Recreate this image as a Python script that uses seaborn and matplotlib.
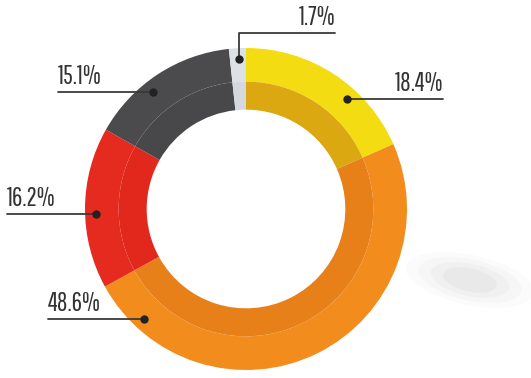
import matplotlib
matplotlib.use("Agg")
import matplotlib.pyplot as plt
import seaborn as sns
import numpy as np

# data: shares clockwise from 12 o'clock
labels = ["18.4%", "48.6%", "16.2%", "15.1%", "1.7%"]
shares = [18.4, 48.6, 16.2, 15.1, 1.7]
outer_colors = ["#f4dc12", "#f28c1c", "#e52a1f", "#4b4b4d", "#dde0e4"]
inner_colors = ["#dba812", "#e8801a", "#e2281d", "#48484a", "#d5d8dc"]

# label layout: dot angle (deg clockwise from top), line end x (px)
dot_angle = [42.6, 223.0, 268.0, 321.5, -2.6]
line_end_x = [443, 48, 7, 58, 335]

sns.set_theme(style="white")
plt.rcParams["font.family"] = ["Pathway Gothic One", "DejaVu Sans"]

W, H = 531, 378
fig = plt.figure(figsize=(W / 100, H / 100), dpi=100)
ax = fig.add_axes([0, 0, 1, 1])

cx, cy = 246, H - 209  # centre in data coords (y up)
R = 161
ring = 0.38 * R

# faint blurred shadow at lower right
for k, a in enumerate([0.03, 0.04, 0.05, 0.06]):
    e = matplotlib.patches.Ellipse((470, H - 280), 130 - 25 * k, 50 - 9 * k,
                                   angle=-12, facecolor="#888888", alpha=a,
                                   edgecolor="none", zorder=0)
    ax.add_patch(e)

ax.pie(shares, colors=outer_colors, startangle=90, counterclock=False,
       center=(cx, cy), radius=R,
       wedgeprops=dict(width=ring * 0.55, edgecolor="none"), frame=True)
ax.pie(shares, colors=inner_colors, startangle=90, counterclock=False,
       center=(cx, cy), radius=R - ring * 0.55,
       wedgeprops=dict(width=ring * 0.45 + 0.5, edgecolor="none"), frame=True)

line_col = "#3a3a3a"
r_dot = 0.93 * R
for lab, ang, xe in zip(labels, dot_angle, line_end_x):
    t = np.deg2rad(ang)
    dx, dy = cx + r_dot * np.sin(t), cy + r_dot * np.cos(t)
    ax.plot(dx, dy, "o", color="#222222", ms=5, zorder=5)
    if lab == "1.7%":
        ly = H - 33
        ax.plot([dx, dx, xe], [dy, ly, ly], color=line_col, lw=1.3, zorder=4)
    else:
        ly = dy
        ax.plot([dx, xe], [dy, ly], color=line_col, lw=1.3, zorder=4)
    right = xe > dx
    ax.text(xe, ly + 3, lab, ha="right" if right else "left", va="bottom",
            fontsize=18.5, color="#333333")

ax.set_xlim(0, W)
ax.set_ylim(0, H)
ax.set_aspect("equal")
ax.axis("off")
fig.savefig("out.png", dpi=100)
